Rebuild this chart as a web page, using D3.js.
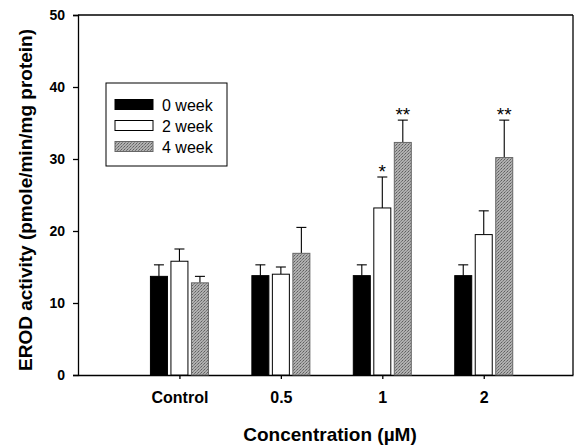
<!DOCTYPE html>
<html>
<head>
<meta charset="utf-8">
<script src="https://cdn.jsdelivr.net/npm/d3@7"></script>
<style>
  body { margin: 0; background: #fff; }
  svg { font-family: Arial, "Liberation Sans", sans-serif; }
</style>
</head>
<body>
<svg id="chart" width="585" height="447"></svg>
<script>
const categories = ['Control', '0.5', '1', '2'];
const seriesNames = ['0 week', '2 week', '4 week'];
const week0 = [13.7, 13.8, 13.8, 13.8];
const week0Err = [1.6, 1.5, 1.5, 1.5];
const week2 = [15.8, 14.0, 23.2, 19.5];
const week2Err = [1.7, 1.0, 4.3, 3.3];
const week4 = [12.8, 16.9, 32.3, 30.2];
const week4Err = [0.9, 3.6, 3.1, 5.2];
const stars = [['', '', ''], ['', '', ''], ['', '*', '**'], ['', '', '**']];
const yTicks = [0, 10, 20, 30, 40, 50];

const svg = d3.select('#chart');
const plotL = 78, plotR = 573, plotT = 15, plotB = 375;

// categories sit on a linear scale so the empty margins left and right match
const x = d3.scaleLinear().domain([-1, 3.88]).range([plotL, plotR]);
const y = d3.scaleLinear().domain([0, 50]).range([plotB, plotT]);
const barW = 17, step = 20.5;

const defs = svg.append('defs');
const pat = defs.append('pattern')
  .attr('id', 'stipple').attr('width', 3).attr('height', 3)
  .attr('patternUnits', 'userSpaceOnUse');
pat.append('rect').attr('width', 3).attr('height', 3).attr('fill', '#b0b0b0');
pat.append('rect').attr('x', 0).attr('y', 0).attr('width', 1).attr('height', 1).attr('fill', '#5e5e5e');
pat.append('rect').attr('x', 2).attr('y', 1).attr('width', 1).attr('height', 1).attr('fill', '#767676');
pat.append('rect').attr('x', 1).attr('y', 2).attr('width', 1).attr('height', 1).attr('fill', '#868686');

const fills = ['#000', '#fff', 'url(#stipple)'];
const strokes = ['#000', '#000', '#666'];
const series = [week0, week2, week4];
const errs = [week0Err, week2Err, week4Err];

// frame
svg.append('line').attr('x1', plotL).attr('x2', plotR).attr('y1', plotT).attr('y2', plotT)
  .attr('stroke', '#000').attr('stroke-width', 1.3);
svg.append('line').attr('x1', plotR).attr('x2', plotR).attr('y1', plotT).attr('y2', plotB)
  .attr('stroke', '#000').attr('stroke-width', 1.3);

const yAxis = d3.axisLeft(y).tickValues(yTicks).tickSize(5).tickPadding(8);
svg.append('g').attr('transform', `translate(${plotL},0)`).call(yAxis)
  .call(g => g.selectAll('text').attr('font-size', 14).attr('font-weight', 'bold').attr('fill', '#000'))
  .call(g => g.selectAll('line, path').attr('stroke', '#000').attr('stroke-width', 1.3));

const xAxis = d3.axisBottom(x).tickValues(d3.range(categories.length))
  .tickFormat(i => categories[i]).tickSize(4).tickSizeOuter(0).tickPadding(13);
svg.append('g').attr('transform', `translate(0,${plotB})`).call(xAxis)
  .call(g => g.selectAll('text').attr('font-size', 16).attr('font-weight', 'bold').attr('fill', '#000'))
  .call(g => g.selectAll('line, path').attr('stroke', '#000').attr('stroke-width', 1.3));

series.forEach((vals, s) => {
  const g = svg.append('g');
  categories.forEach((c, i) => {
    const cx = x(i) + (s - 1) * step;
    const hi = y(vals[i] + errs[s][i]);
    // error bar (upper only)
    g.append('line').attr('x1', cx).attr('x2', cx)
      .attr('y1', y(vals[i])).attr('y2', hi)
      .attr('stroke', '#000').attr('stroke-width', 1.1);
    g.append('line').attr('x1', cx - 5).attr('x2', cx + 5)
      .attr('y1', hi).attr('y2', hi)
      .attr('stroke', '#000').attr('stroke-width', 1.1);
    g.append('rect').attr('x', cx - barW / 2).attr('y', y(vals[i]))
      .attr('width', barW).attr('height', y(0) - y(vals[i]))
      .attr('fill', fills[s]).attr('stroke', strokes[s]).attr('stroke-width', 1);
    if (stars[i][s]) {
      g.append('text').attr('x', cx).attr('y', hi + 1)
        .attr('text-anchor', 'middle').attr('font-size', 19)
        .text(stars[i][s]);
    }
  });
});

// legend
const lg = svg.append('g').attr('transform', 'translate(106,83)');
lg.append('rect').attr('width', 121).attr('height', 83).attr('fill', '#fff')
  .attr('stroke', '#000').attr('stroke-width', 1);
seriesNames.forEach((n, s) => {
  const ly = 21.5 + s * 21;
  lg.append('rect').attr('x', 9).attr('y', ly - 5).attr('width', 38).attr('height', 10)
    .attr('fill', fills[s]).attr('stroke', strokes[s]).attr('stroke-width', 1);
  lg.append('text').attr('x', 56).attr('y', ly + 6).attr('font-size', 16).text(n);
});

// axis titles
svg.append('text').attr('x', 330).attr('y', 441)
  .attr('text-anchor', 'middle').attr('font-size', 19).attr('font-weight', 'bold')
  .text('Concentration (\u00b5M)');
svg.append('text').attr('transform', 'translate(32,200) rotate(-90)')
  .attr('text-anchor', 'middle').attr('font-size', 19).attr('font-weight', 'bold')
  .text('EROD activity (pmole/min/mg protein)');
</script>
</body>
</html>
